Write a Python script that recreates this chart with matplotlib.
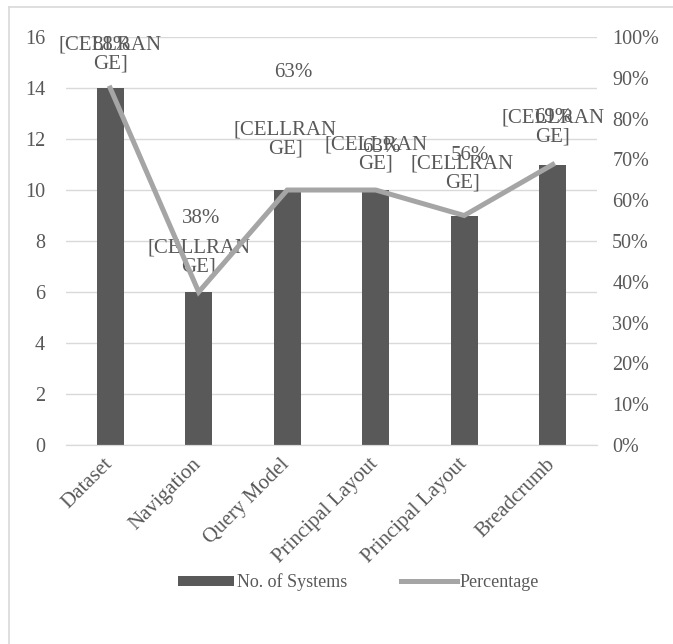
import matplotlib
matplotlib.use("Agg")
import matplotlib.pyplot as plt
from matplotlib.lines import Line2D
from matplotlib.ticker import FuncFormatter

# chart data
categories = ["Dataset", "Navigation", "Query Model", "Principal Layout",
              "Principal Layout", "Breadcrumb"]
systems = [14, 6, 10, 10, 9, 11]
percentage = [0.875, 0.375, 0.625, 0.625, 0.5625, 0.6875]
bar_labels = ["[CELLRAN\nGE]"] * 6

# label offsets (pixels) as placed in the original
bar_lbl_off = [(0, 34), (0, 35), (-2, 51), (0, 36), (-2, 42), (0, 37)]
pct_lbl_off = [(1, 43), (2, 74), (6, 118), (6, 43), (6, 60), (1, 47)]

TXT = "#595959"
BAR = "#595959"
LINE = "#A5A5A5"
GRID = "#D9D9D9"


def pct(v, pos=None):
    # excel style rounding (half up)
    return "%d%%" % int(v * 100 + 0.5)


plt.rcParams['font.family'] = ['Liberation Serif', 'DejaVu Serif']

fig = plt.figure(figsize=(6.73, 6.44), dpi=100)
ax = fig.add_axes([0.098, 0.309, 0.789, 0.6335])
ax2 = ax.twinx()

x = list(range(len(categories)))
ax.bar(x, systems, width=0.305, color=BAR, zorder=2, label="No. of Systems")
ax.set_xlim(-0.5, len(categories) - 0.5)
ax.set_ylim(0, 16)
ax.set_yticks(range(0, 17, 2))
ax.yaxis.grid(True, color=GRID, linewidth=1, zorder=0)
ax.set_axisbelow(True)

ax2.plot(x, percentage, color=LINE, linewidth=3.6, solid_joinstyle='miter',
         zorder=3, label="Percentage")
ax2.set_ylim(0, 1)
ax2.set_yticks([i / 10 for i in range(11)])
ax2.yaxis.set_major_formatter(FuncFormatter(pct))

for a in (ax, ax2):
    for s in ("top", "left", "right"):
        a.spines[s].set_visible(False)
    a.spines["bottom"].set_color(GRID)
    a.tick_params(length=0, labelsize=14.5, colors=TXT)
ax.tick_params(axis='y', pad=15)
ax2.tick_params(axis='y', pad=11)

ax.set_xticks(x)
ax.set_xticklabels(categories, rotation=45, ha='right', va='center',
                   rotation_mode='anchor', fontsize=15, color=TXT)
ax.tick_params(axis='x', pad=12)

for i, (v, lbl) in enumerate(zip(systems, bar_labels)):
    ax.annotate(lbl, (i, v), xytext=bar_lbl_off[i], textcoords='offset pixels',
                ha='center', va='center', fontsize=15, color=TXT,
                linespacing=1.0, zorder=5)
for i, p in enumerate(percentage):
    ax2.annotate(pct(p), (i, p),
                 xytext=pct_lbl_off[i], textcoords='offset pixels',
                 ha='center', va='center', fontsize=15, color=TXT, zorder=5)

h1, l1 = ax.get_legend_handles_labels()
h2, l2 = ax2.get_legend_handles_labels()
fig.legend(h1 + h2, l1 + l2, loc='center', bbox_to_anchor=(0.533, 0.096),
           ncol=2, frameon=False, fontsize=13, handlelength=3.1,
           handleheight=0.45, columnspacing=3.0, handletextpad=0.15,
           labelcolor=TXT)

# chart border (left and top edges visible)
fig.add_artist(Line2D([8.5 / 673, 8.5 / 673], [0, 1 - 7 / 644],
                      transform=fig.transFigure, color=GRID, linewidth=1.2))
fig.add_artist(Line2D([8.5 / 673, 1], [1 - 7 / 644, 1 - 7 / 644],
                      transform=fig.transFigure, color=GRID, linewidth=1.2))

fig.savefig("out.png", dpi=100)
